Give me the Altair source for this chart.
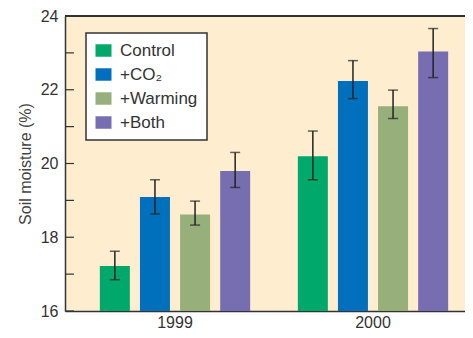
import altair as alt
import pandas as pd

years = ["1999", "2000"]
treatments = ["Control", "+CO₂", "+Warming", "+Both"]
colors = ["#00A86B", "#0070BC", "#97AF7B", "#766EB0"]

means_1999 = [17.22, 19.09, 18.62, 19.80]
lo_1999 = [16.85, 18.63, 18.33, 19.35]
hi_1999 = [17.62, 19.56, 18.98, 20.30]

means_2000 = [20.20, 22.24, 21.55, 23.04]
lo_2000 = [19.56, 21.76, 21.22, 22.33]
hi_2000 = [20.88, 22.79, 21.99, 23.66]

y_ticks = [16, 17, 18, 19, 20, 21, 22, 23, 24]
y_labels = [16, 18, 20, 22, 24]

rows = []
for yr, m, lo, hi in [("1999", means_1999, lo_1999, hi_1999), ("2000", means_2000, lo_2000, hi_2000)]:
    for t, v, l, h in zip(treatments, m, lo, hi):
        rows.append({"year": yr, "treatment": t, "value": v, "lo": l, "hi": h})
df = pd.DataFrame(rows)
ticks_df = pd.DataFrame({"tick": y_ticks})

FONT = "Liberation Sans"

x_enc = alt.X("year:N", sort=years,
              scale=alt.Scale(paddingInner=0.0707, paddingOuter=0.0455, align=1),
              axis=alt.Axis(title=None, ticks=False, labelAngle=0, labelFontSize=16,
                            labelFont=FONT, labelColor="#333", labelPadding=3,
                            domainColor="#333", domainWidth=1.5))
xoff_enc = alt.XOffset("treatment:N", sort=treatments,
                       scale=alt.Scale(paddingInner=0.252, paddingOuter=0.42))
y_scale = alt.Scale(domain=[16, 24], nice=False, zero=False)

bars = alt.Chart(df).mark_bar().encode(
    x=x_enc,
    xOffset=xoff_enc,
    y=alt.Y("value:Q", scale=y_scale,
            axis=alt.Axis(values=y_labels, ticks=False, labelFontSize=16, labelFont=FONT,
                          labelColor="#333", labelPadding=7, grid=False,
                          domainColor="#333", domainWidth=1.5,
                          title="Soil moisture (%)", titleFontSize=16, titleFont=FONT,
                          titleFontWeight="normal", titleColor="#444", titlePadding=7)),
    y2=alt.datum(16),
    color=alt.Color("treatment:N", sort=treatments,
                    scale=alt.Scale(domain=treatments, range=colors),
                    legend=alt.Legend(title=None, orient="none", legendX=21, legendY=17,
                                      symbolType="M-1,-0.78H1V0.78H-1Z", symbolSize=256,
                                      symbolStrokeWidth=0, symbolOpacity=1,
                                      labelFontSize=17, labelFont=FONT, labelColor="#333",
                                      labelOffset=8, rowPadding=6, padding=9,
                                      fillColor="white", strokeColor="#333")),
)

err = alt.Chart(df).mark_rule(color="#222", strokeWidth=1.5).encode(
    x=alt.X("year:N", sort=years), xOffset=alt.XOffset("treatment:N", sort=treatments),
    y=alt.Y("lo:Q", scale=y_scale), y2="hi:Q")
cap_hi = alt.Chart(df).mark_tick(color="#222", thickness=1.5, size=10).encode(
    x=alt.X("year:N", sort=years), xOffset=alt.XOffset("treatment:N", sort=treatments),
    y=alt.Y("hi:Q", scale=y_scale))
cap_lo = alt.Chart(df).mark_tick(color="#222", thickness=1.5, size=10).encode(
    x=alt.X("year:N", sort=years), xOffset=alt.XOffset("treatment:N", sort=treatments),
    y=alt.Y("lo:Q", scale=y_scale))

inner_ticks = alt.Chart(ticks_df).mark_rule(color="#333", strokeWidth=1.2).encode(
    y=alt.Y("tick:Q", scale=y_scale), x=alt.value(0), x2=alt.value(9))
top_line = alt.Chart(ticks_df).mark_rule(color="#333", strokeWidth=1.5).encode(
    y=alt.datum(24))

chart = alt.layer(bars, err, cap_hi, cap_lo, inner_ticks, top_line).properties(
    width=400, height=295,
    autosize=alt.AutoSizeParams(type="none"),
    padding={"left": 57, "top": 8, "right": 0, "bottom": 19},
    background="white",
).configure_view(stroke=None, fill="#FEEDCF").configure_legend(strokeWidth=1.5)

chart.save("out.html", embed_options={"renderer": "svg", "actions": False})
